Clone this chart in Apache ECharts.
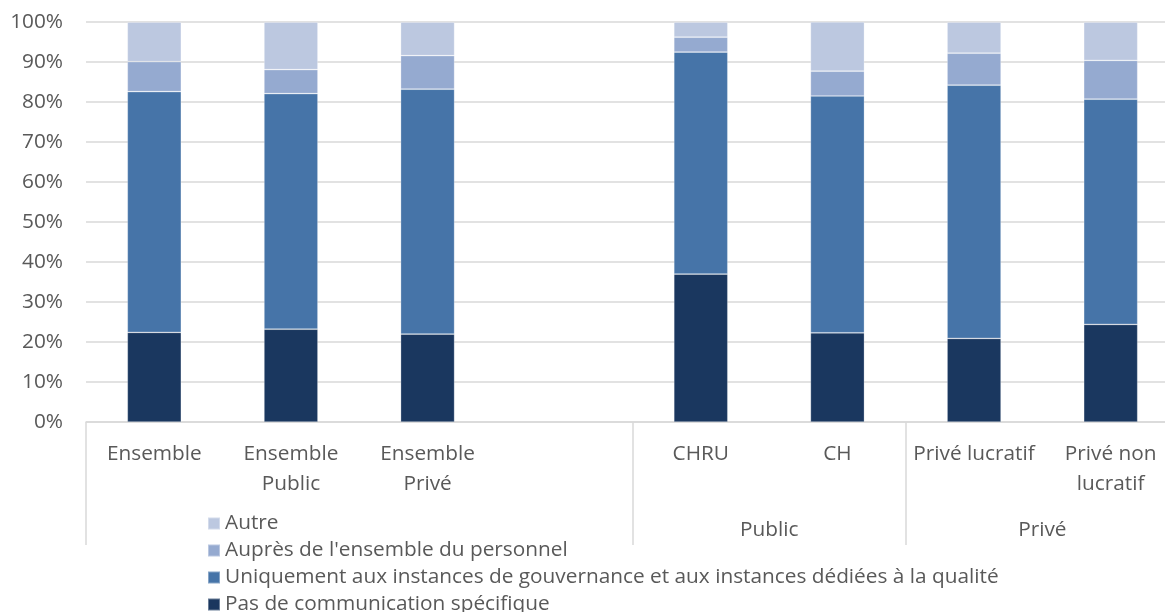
<!DOCTYPE html>
<html>
<head>
<meta charset="utf-8">
<script src="https://cdn.jsdelivr.net/npm/echarts@6/dist/echarts.min.js"></script>
<style>
  html, body { margin: 0; padding: 0; background: #ffffff; }
  #chart { width: 1165px; height: 612px; }
</style>
</head>
<body>
<div id="chart"></div>
<script>
// Catégories (niveau 1) ; la 4e colonne est vide pour séparer les groupes
const categories = ['Ensemble', 'Ensemble\nPublic', 'Ensemble\nPrivé', '', 'CHRU', 'CH', 'Privé lucratif', 'Privé non\nlucratif'];

// Groupes (niveau 2) : libellé et position centrale en nombre de colonnes
const groupLabels = ['Public', 'Privé'];
const groupCenters = [5, 7];
const groupBounds = [0, 4, 6, 8];

// Parts (%) de chaque modalité
const pasDeCommunication = [22.4, 23.2, 22.0, null, 37.0, 22.3, 20.9, 24.4];
const uniquementInstances = [60.2, 58.9, 61.2, null, 55.5, 59.2, 63.3, 56.3];
const aupresPersonnel = [7.5, 6.0, 8.4, null, 3.7, 6.2, 8.0, 9.7];
const autre = [9.9, 11.9, 8.4, null, 3.8, 12.3, 7.8, 9.6];

const yTicks = [0, 10, 20, 30, 40, 50, 60, 70, 80, 90, 100];

const seriesNames = [
  'Pas de communication spécifique',
  'Uniquement aux instances de gouvernance et aux instances dédiées à la qualité',
  "Auprès de l'ensemble du personnel",
  'Autre'
];
const seriesData = [pasDeCommunication, uniquementInstances, aupresPersonnel, autre];
const seriesColors = ['#1a375f', '#4674a8', '#95aad0', '#bcc8e0'];

const FONT = '"Open Sans", "Noto Sans", sans-serif';
const FS = 20.8;
const TXT = '#595959';
const LINE = '#d9d9d9';

const chart = echarts.init(document.getElementById('chart'), null, { renderer: 'canvas' });

chart.setOption({
  animation: false,
  backgroundColor: '#ffffff',
  textStyle: { fontFamily: FONT },
  // la zone de tracé déborde légèrement à droite du cadre
  grid: { left: 86, right: -14, top: 22, height: 400, containLabel: false, outerBoundsMode: 'none' },
  legend: {
    orient: 'vertical',
    left: 202,
    top: 508,
    height: 120,
    itemWidth: 12,
    itemHeight: 12,
    itemGap: 6,
    icon: 'rect',
    data: seriesNames.slice().reverse(),
    textStyle: { color: TXT, fontSize: FS, lineHeight: 21, fontFamily: FONT, padding: [0, 0, 0, 0] }
  },
  xAxis: [
    {
      type: 'category',
      data: categories,
      position: 'bottom',
      axisLine: { show: true, lineStyle: { color: LINE, width: 1.5 } },
      axisTick: { show: false },
      axisLabel: {
        interval: 0,
        margin: 17,
        color: TXT,
        fontSize: FS,
        lineHeight: 30,
        fontFamily: FONT
      },
      splitLine: { show: false }
    },
    {
      type: 'value',
      min: 0,
      max: 8,
      position: 'bottom',
      axisLine: { show: false },
      axisTick: {
        show: true,
        customValues: groupBounds,
        length: 123,
        lineStyle: { color: LINE, width: 1.5 }
      },
      axisLabel: {
        show: true,
        customValues: groupCenters,
        margin: 98,
        color: TXT,
        fontSize: FS,
        fontFamily: FONT,
        formatter: function (v) {
          const i = groupCenters.indexOf(v);
          return i >= 0 ? groupLabels[i] : '';
        }
      },
      splitLine: { show: false }
    }
  ],
  yAxis: {
    type: 'value',
    min: 0,
    max: 100,
    interval: 10,
    axisLine: { show: false },
    axisTick: { show: false },
    axisLabel: {
      margin: 23,
      color: TXT,
      fontSize: FS,
      fontFamily: FONT,
      customValues: yTicks,
      formatter: '{value}%'
    },
    splitLine: { lineStyle: { color: LINE, width: 1.5 } }
  },
  series: seriesNames.map(function (name, i) {
    return {
      name: name,
      type: 'bar',
      stack: 'total',
      xAxisIndex: 0,
      barWidth: 54,
      data: seriesData[i],
      itemStyle: { color: seriesColors[i], borderColor: 'rgba(255,255,255,0.35)', borderWidth: 0.75 },
      emphasis: { disabled: true }
    };
  })
});
</script>
</body>
</html>
